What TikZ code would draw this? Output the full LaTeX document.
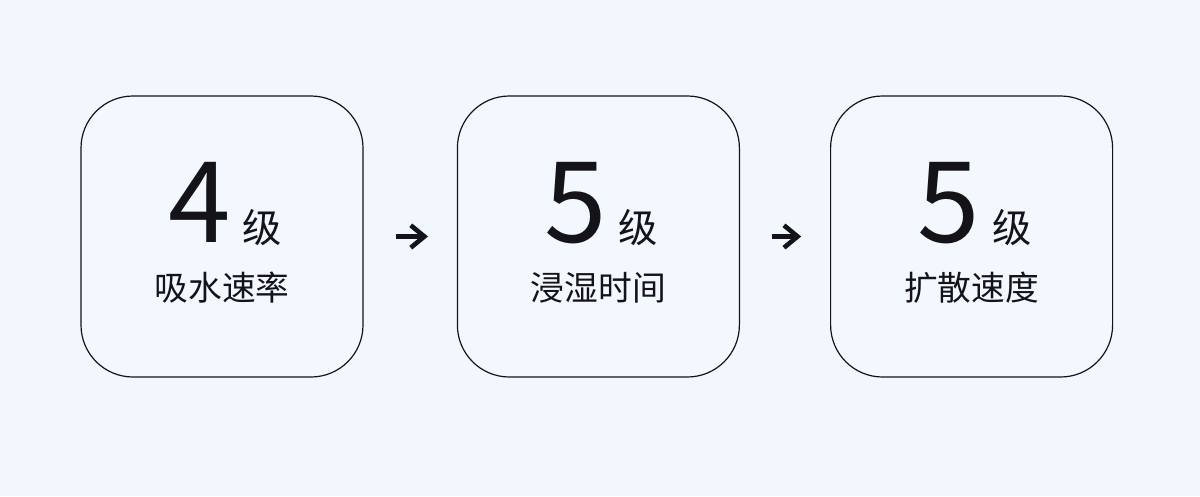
\documentclass[tikz,border=0pt]{standalone}
\usepackage{fontspec}
\setmainfont{Noto Sans CJK SC}
\usepackage{xcolor}
\usetikzlibrary{positioning, arrows.meta}
\definecolor{pagebg}{HTML}{F1F7FD}
\definecolor{cardfill}{HTML}{F2F8FE}
\definecolor{inkdark}{HTML}{141418}

\begin{document}
\begin{tikzpicture}[
    node distance=2.33cm,
    card/.style={rectangle, draw=inkdark, line width=0.85pt, fill=cardfill, rounded corners=1.3cm, minimum width=7.05cm, minimum height=7.025cm},
    grade/.style={anchor=base, inner sep=0pt, text=inkdark},
    caption/.style={anchor=base, inner sep=0pt, text=inkdark, font=\fontsize{24}{28}\selectfont},
    arrow/.style={-{Straight Barb[length=3.4mm, width=5.6mm]}, line width=3.3pt, draw=inkdark, shorten <=0.8cm, shorten >=0.72cm}
]
    \useasboundingbox[fill=pagebg] (0,0) rectangle (30,12.4);
    \node [card] (absorb) at (5.55,6.4875) {};
    \node [card, right=of absorb] (wet) {};
    \node [card, right=2.25cm of wet] (spread) {};
    % grades
    \node [grade] (g1) at ([xshift=0.075cm, yshift=-0.14cm]absorb.center) {{\fontsize{80}{80}\selectfont 4}\hspace{0.3cm}{\fontsize{28}{28}\selectfont 级}};
    \node [grade] (g2) at ([xshift=0.075cm, yshift=-0.14cm]wet.center) {{\fontsize{80}{80}\selectfont 5}\hspace{0.3cm}{\fontsize{28}{28}\selectfont 级}};
    \node [grade] (g3) at ([xshift=0.075cm, yshift=-0.14cm]spread.center) {{\fontsize{80}{80}\selectfont 5}\hspace{0.3cm}{\fontsize{28}{28}\selectfont 级}};
    % captions
    \node [caption] (c1) at ([yshift=-1.59cm]absorb.center) {吸水速率};
    \node [caption] (c2) at ([yshift=-1.59cm]wet.center) {浸湿时间};
    \node [caption] (c3) at ([yshift=-1.59cm]spread.center) {扩散速度};
    \draw [arrow] (absorb) -- (wet);
    \draw [arrow] (wet) -- (spread);
\end{tikzpicture}
\end{document}
